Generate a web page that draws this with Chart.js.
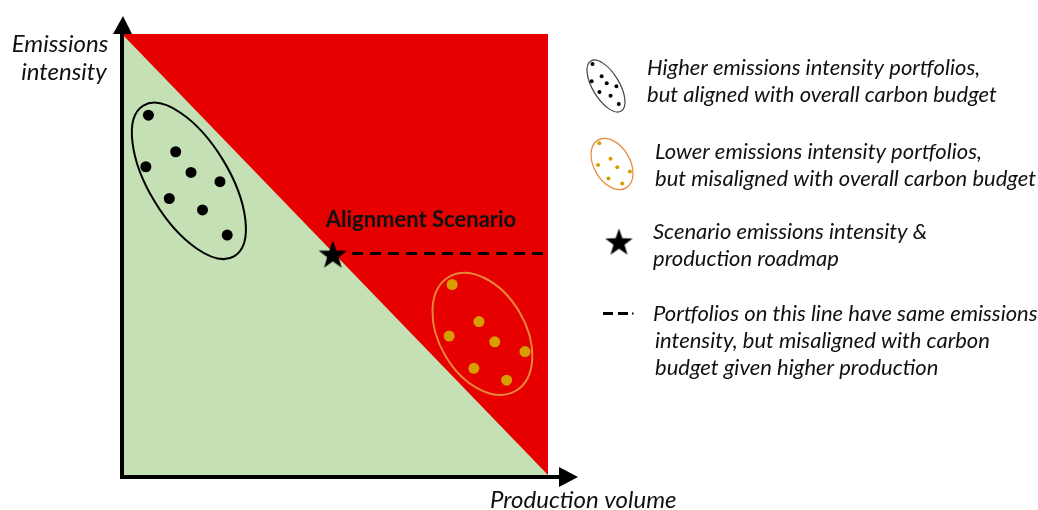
<!DOCTYPE html>
<html>
<head>
<meta charset="utf-8">
<script src="https://cdn.jsdelivr.net/npm/chart.js@4"></script>
<style>
  body { margin: 0; background: #fff; }
  canvas { display: block; }
</style>
</head>
<body>
<canvas id="myChart" width="1038" height="510"></canvas>
<script>
// data (x = production volume, y = emissions intensity, 0-100)
var frontierX = [0, 100];
var frontierY = [100, 0];
var alignedX = [6.2, 12.6, 5.6, 16.2, 23.0, 11.1, 18.9, 24.7];
var alignedY = [81.6, 73.3, 69.9, 68.6, 66.5, 62.7, 60.1, 54.4];
var misalignedX = [77.5, 83.8, 76.8, 87.5, 94.6, 82.6, 90.3];
var misalignedY = [43.2, 34.8, 31.5, 30.2, 28.0, 24.2, 21.5];
var scenarioX = [49.5];
var scenarioY = [49.8];
var sameIntensityX = [54, 100];
var sameIntensityY = [50.2, 50.2];

var legendLines = [
  ['Higher emissions intensity portfolios,', 'but aligned with overall carbon budget'],
  ['Lower emissions intensity portfolios,', 'but misaligned with overall carbon budget'],
  ['Scenario emissions intensity &', 'production roadmap'],
  ['Portfolios on this line have same emissions', 'intensity, but misaligned with carbon', 'budget given higher production']
];

function pts(xs, ys) {
  return xs.map(function (x, i) { return { x: x, y: ys[i] }; });
}

var RED = '#e60000';
var GREEN = '#c5e0b4';
var GOLD = '#d69e00';
var ORANGE = '#e8873a';
var FONT = 'Lato, "Open Sans", sans-serif';

// filled 5 point star used as point style
function makeStar(r) {
  var c = document.createElement('canvas');
  c.width = c.height = Math.ceil(r * 2 + 2);
  var g = c.getContext('2d');
  var cx = c.width / 2, cy = c.height / 2;
  g.beginPath();
  for (var i = 0; i < 10; i++) {
    var rr = i % 2 ? r * 0.4 : r;
    var a = -Math.PI / 2 + i * Math.PI / 5;
    g.lineTo(cx + rr * Math.cos(a), cy + rr * Math.sin(a));
  }
  g.closePath();
  g.fillStyle = '#000';
  g.fill();
  return c;
}
var starImg = makeStar(15);
var starSmall = makeStar(14.5);

// ellipses round the clusters (pixel radii, rotation in degrees)
var clusterRings = [
  { xs: alignedX, ys: alignedY, cx: 15.7, cy: 66.7, a: 88, b: 40, rot: 58.8, color: '#000', width: 2,
    icon: { x: 606, y: 86, k: 1 / 3, color: '#444', dot: '#000' } },
  { xs: misalignedX, ys: misalignedY, cx: 84.6, cy: 32.0, a: 66, b: 43, rot: 59.5, color: ORANGE, width: 2,
    icon: { x: 612, y: 164, k: 0.42, color: ORANGE, dot: GOLD } }
];

var decor = {
  id: 'decor',
  afterDatasetDraw: function (chart, args) {
    if (args.index !== 4) return; // right after the green area
    var ctx = chart.ctx, sx = chart.scales.x, sy = chart.scales.y;
    clusterRings.forEach(function (e) {
      ctx.save();
      ctx.beginPath();
      ctx.ellipse(sx.getPixelForValue(e.cx), sy.getPixelForValue(e.cy), e.a, e.b, e.rot * Math.PI / 180, 0, Math.PI * 2);
      ctx.strokeStyle = e.color;
      ctx.lineWidth = e.width;
      ctx.stroke();
      ctx.restore();
    });
  },
  afterDraw: function (chart) {
    var ctx = chart.ctx, area = chart.chartArea;
    var sx = chart.scales.x, sy = chart.scales.y;
    ctx.save();
    // axes with arrows
    ctx.fillStyle = '#000';
    ctx.fillRect(area.left - 2, area.top - 2, 4, area.bottom - area.top + 6);
    ctx.fillRect(area.left - 2, area.bottom, 561 - area.left, 4);
    ctx.beginPath();
    ctx.moveTo(area.left + 1, 16);
    ctx.lineTo(area.left - 9, 34);
    ctx.lineTo(area.left + 10, 34);
    ctx.closePath();
    ctx.fill();
    ctx.beginPath();
    ctx.moveTo(578, area.bottom + 2);
    ctx.lineTo(559, area.bottom - 8);
    ctx.lineTo(559, area.bottom + 12);
    ctx.closePath();
    ctx.fill();

    // axis titles
    ctx.fillStyle = '#111';
    ctx.textBaseline = 'middle';
    ctx.font = 'italic 24px ' + FONT;
    ctx.textAlign = 'center';
    ctx.fillText('Emissions', 60, 44);
    ctx.fillText('intensity', 64, 72);
    ctx.textAlign = 'left';
    ctx.fillText('Production volume', 490, 500);

    ctx.font = 'bold 22px ' + FONT;
    ctx.textAlign = 'center';
    ctx.fillText('Alignment Scenario', 421, 220);

    // legend icons
    clusterRings.forEach(function (e) {
      var ic = e.icon;
      var cxp = sx.getPixelForValue(e.cx), cyp = sy.getPixelForValue(e.cy);
      ctx.beginPath();
      ctx.ellipse(ic.x, ic.y, e.a * ic.k, e.b * ic.k, e.rot * Math.PI / 180, 0, Math.PI * 2);
      ctx.strokeStyle = ic.color;
      ctx.lineWidth = 1.2;
      ctx.stroke();
      ctx.fillStyle = ic.dot;
      e.xs.forEach(function (x, i) {
        var px = ic.x + (sx.getPixelForValue(x) - cxp) * ic.k;
        var py = ic.y + (sy.getPixelForValue(e.ys[i]) - cyp) * ic.k;
        ctx.beginPath();
        ctx.arc(px, py, 2, 0, Math.PI * 2);
        ctx.fill();
      });
    });
    ctx.drawImage(starSmall, 619 - starSmall.width / 2, 243 - starSmall.height / 2);
    ctx.fillStyle = '#000';
    ctx.fillRect(603, 312, 10, 3);
    ctx.fillRect(618, 312, 10, 3);
    ctx.fillRect(632, 312.5, 1.5, 2);

    // legend text
    ctx.fillStyle = '#111';
    ctx.font = 'italic 22px ' + FONT;
    ctx.textAlign = 'left';
    var starts = [[647, 68], [655, 152], [653, 232], [653, 314]];
    legendLines.forEach(function (lines, k) {
      lines.forEach(function (t, j) {
        var x = starts[k][0] + (k === 3 && j > 0 ? 2 : 0);
        ctx.fillText(t, x, starts[k][1] + j * 27);
      });
    });
    ctx.restore();
  }
};

var ctx = document.getElementById('myChart');
var myChart = new Chart(ctx, {
  type: 'scatter',
  data: {
    datasets: [
      { label: 'Scenario', data: pts(scenarioX, scenarioY), pointStyle: starImg, pointRadius: 15 },
      { label: 'Aligned', data: pts(alignedX, alignedY), backgroundColor: '#000', borderWidth: 0, pointRadius: 5.5 },
      { label: 'Misaligned', data: pts(misalignedX, misalignedY), backgroundColor: GOLD, borderWidth: 0, pointRadius: 5.5 },
      { label: 'Same intensity', type: 'line', data: pts(sameIntensityX, sameIntensityY), borderColor: '#000',
        borderWidth: 3, borderDash: [11, 7], pointRadius: 0, fill: false },
      { label: 'Aligned area', type: 'line', data: pts(frontierX, frontierY), borderWidth: 0, borderColor: GREEN,
        backgroundColor: GREEN, pointRadius: 0, fill: 'start' },
      { label: 'Misaligned area', type: 'line', data: pts(frontierX, [100, 100]), borderWidth: 0, borderColor: RED,
        backgroundColor: RED, pointRadius: 0, fill: 'start' }
    ]
  },
  options: {
    responsive: false,
    animation: false,
    devicePixelRatio: 1,
    layout: { padding: { left: 122, right: 490, top: 34, bottom: 35 } },
    scales: {
      x: { type: 'linear', min: 0, max: 100, display: false },
      y: { type: 'linear', min: 0, max: 100, display: false }
    },
    plugins: { legend: { display: false }, tooltip: { enabled: false } }
  },
  plugins: [decor]
});
</script>
</body>
</html>
